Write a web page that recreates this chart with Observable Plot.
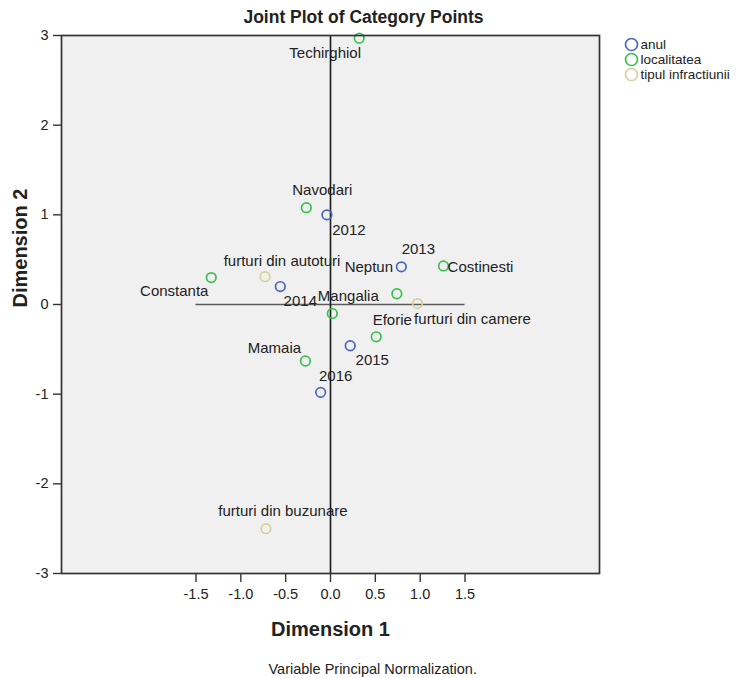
<!DOCTYPE html>
<html>
<head>
<meta charset="utf-8">
<script src="https://cdn.jsdelivr.net/npm/d3@7"></script>
<script src="https://cdn.jsdelivr.net/npm/@observablehq/plot@0.6"></script>
<style>
  body { margin: 0; background: #fff; }
  svg { display: block; }
</style>
</head>
<body>
<div id="chart"></div>
<script>
// ---- Data ----
const seriesNames = ["anul", "localitatea", "tipul infractiunii"];
const seriesColors = ["#4b65c0", "#38c04e", "#d6d09c"];

const anulLabels = ["2012", "2013", "2014", "2015", "2016"];
const anulDim1 = [-0.04, 0.79, -0.56, 0.22, -0.11];
const anulDim2 = [1.00, 0.42, 0.20, -0.46, -0.98];

const localitateaLabels = ["Techirghiol", "Navodari", "Costinesti", "Constanta", "Neptun", "Mangalia", "Eforie", "Mamaia"];
const localitateaDim1 = [0.32, -0.27, 1.26, -1.33, 0.74, 0.02, 0.51, -0.28];
const localitateaDim2 = [2.97, 1.08, 0.43, 0.30, 0.12, -0.10, -0.36, -0.63];

const tipulLabels = ["furturi din autoturi", "furturi din camere", "furturi din buzunare"];
const tipulDim1 = [-0.73, 0.97, -0.72];
const tipulDim2 = [0.31, 0.01, -2.50];

const xTicks = [-1.5, -1.0, -0.5, 0.0, 0.5, 1.0, 1.5];
const yTicks = [-3, -2, -1, 0, 1, 2, 3];
const axisDomain = [-3, 3];

const titleText = "Joint Plot of Category Points";
const xLabelText = "Dimension 1";
const yLabelText = "Dimension 2";
const captionText = "Variable Principal Normalization.";

// ---- Build table ----
function build(series, labels, d1, d2) {
  return labels.map((label, i) => ({series, label, dim1: d1[i], dim2: d2[i]}));
}
const points = [
  ...build("anul", anulLabels, anulDim1, anulDim2),
  ...build("localitatea", localitateaLabels, localitateaDim1, localitateaDim2),
  ...build("tipul infractiunii", tipulLabels, tipulDim1, tipulDim2)
];

// ---- Label placement (styling, pixel offsets of label centers) ----
const labelOffsets = {
  "Techirghiol": [-34, 15],
  "Navodari": [16, -17],
  "2012": [22, 15],
  "2013": [17, -18],
  "Neptun": [-28, -27],
  "Costinesti": [37, 1],
  "Constanta": [-37, 14],
  "furturi din autoturi": [17, -16],
  "2014": [20, 15],
  "Mangalia": [16, -17],
  "Eforie": [16, -17],
  "furturi din camere": [55, 16],
  "2015": [22, 14],
  "Mamaia": [-31, -13],
  "2016": [15, -16],
  "furturi din buzunare": [17, -17]
};

const font = "'Liberation Sans', Arial, Helvetica, sans-serif";
const textColor = "#222";

const labelMarks = points.map(p => {
  const [dx, dy] = labelOffsets[p.label] || [0, -14];
  return Plot.text(points, {
    filter: d => d.label === p.label,
    x: "dim1", y: "dim2", text: "label",
    dx, dy, fontSize: 15, fill: textColor, lineAnchor: "middle", textAnchor: "middle"
  });
});

const legendMarks = seriesNames.flatMap((name, i) => [
  Plot.dot([name], {frameAnchor: "top-right", dx: 32, dy: 9 + i * 15, r: 6, stroke: seriesColors[i], strokeWidth: 1.7, fill: "none"}),
  Plot.text([name], {frameAnchor: "top-right", dx: 41, dy: 9 + i * 15, text: d => d, textAnchor: "start", lineAnchor: "middle", fontSize: 13.5, fill: textColor})
]);

const chart = Plot.plot({
  width: 744,
  height: 678,
  marginLeft: 61,
  marginRight: 145,
  marginTop: 35,
  marginBottom: 105,
  style: {fontFamily: font, fontSize: "14.5px", color: textColor, background: "#fff", overflow: "visible"},
  x: {domain: axisDomain},
  y: {domain: axisDomain},
  color: {domain: seriesNames, range: seriesColors},
  marks: [
    Plot.frame({fill: "#f0f0f0", stroke: "none"}),
    Plot.ruleY([0], {x1: d3.min(xTicks), x2: d3.max(xTicks), stroke: "#5a5a5a", strokeWidth: 1.6}),
    Plot.ruleX([0], {stroke: "#1a1a1a", strokeWidth: 1.6}),
    Plot.dot(points, {x: "dim1", y: "dim2", stroke: "series", r: 4.8, strokeWidth: 1.7, fill: "none"}),
    ...labelMarks,
    Plot.frame({stroke: "#333", strokeWidth: 1.7}),
    Plot.axisY({ticks: yTicks, tickSize: 8, tickPadding: 5, tickFormat: d => String(d), label: null, stroke: "#333", strokeWidth: 1.4, fontSize: 14.5, fill: textColor}),
    Plot.axisX({ticks: xTicks, tickSize: 9, tickPadding: 6, tickFormat: d => d.toFixed(1), label: null, stroke: "#333", strokeWidth: 1.4, fontSize: 14.5, fill: textColor}),
    Plot.text([titleText], {frameAnchor: "top", dx: 33, dy: -18, text: d => d, fontSize: 17.5, fontWeight: "bold", lineAnchor: "middle", fill: textColor}),
    Plot.text([xLabelText], {frameAnchor: "bottom", dx: 0, dy: 56, text: d => d, fontSize: 20, fontWeight: "bold", lineAnchor: "middle", fill: textColor}),
    Plot.text([yLabelText], {frameAnchor: "left", dx: -41, dy: 3, text: d => d, rotate: -90, fontSize: 20, fontWeight: "bold", lineAnchor: "middle", fill: textColor}),
    Plot.text([captionText], {frameAnchor: "bottom-left", dx: 207, dy: 96, text: d => d, fontSize: 14.5, textAnchor: "start", lineAnchor: "middle", fill: textColor}),
    ...legendMarks
  ]
});

document.getElementById("chart").appendChild(chart);
</script>
</body>
</html>
